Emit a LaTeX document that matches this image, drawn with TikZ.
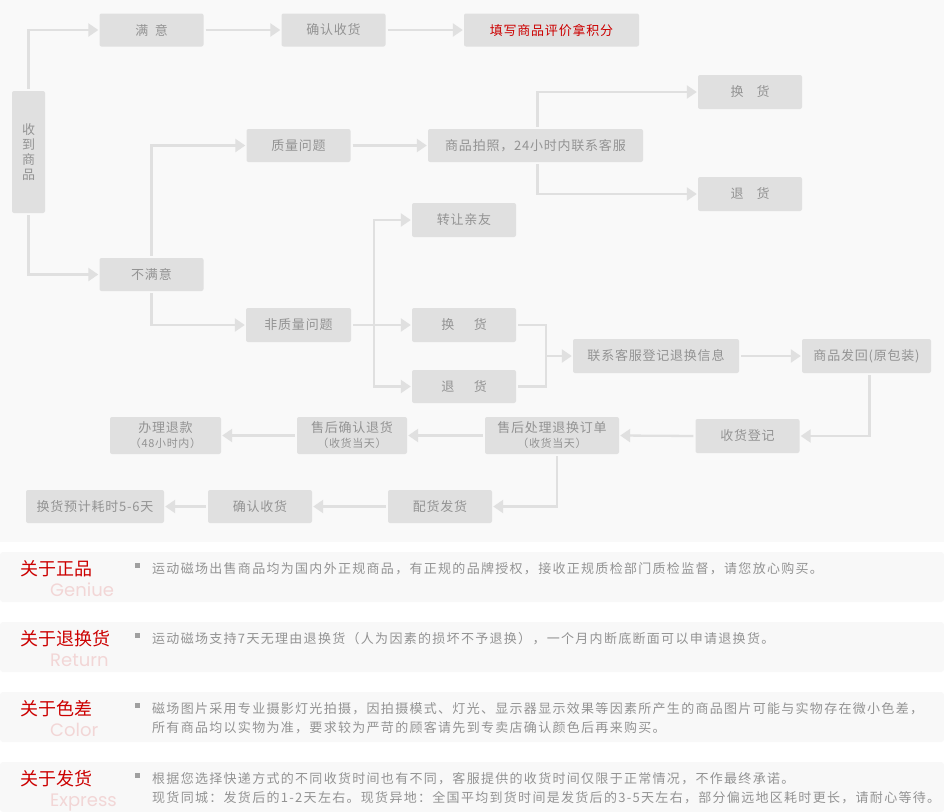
\documentclass[tikz,border=0pt]{standalone}
\usepackage{fontspec}
\setmainfont{Noto Sans CJK SC}
\newfontfamily\flowfont[LetterSpace=6]{Noto Sans CJK SC}
\newfontfamily\notefont[LetterSpace=10]{Noto Sans CJK SC}
\newfontfamily\latinfont{Poppins}
\usetikzlibrary{arrows.meta}
\definecolor{flowbg}{HTML}{F9F9F9}
\definecolor{rowbg}{HTML}{F8F8F8}
\definecolor{boxgray}{HTML}{E0E0E0}
\definecolor{linegray}{HTML}{E0E0E0}
\definecolor{txtgray}{HTML}{939393}
\definecolor{dotgray}{HTML}{A0A0A0}
\definecolor{redtxt}{HTML}{CC0000}
\definecolor{pinktxt}{HTML}{F2D6D6}
\newcommand{\aboutrow}[5]{% Syntax: {name}{top}{title}{english}{text}
  \fill [rowbg, rounded corners=3pt] (0,#2) rectangle ++(944,50);
  \node [rowtitle] (#1-title) at (20,#2+17) {#3};
  \node [rowsub] (#1-sub) at (50,#2+44) {#4};
  \fill [dotgray] (135,#2+11) rectangle ++(5,5);
  \node [rowtext] (#1-text) at (152,#2+10) {#5};
}
\begin{document}
\begin{tikzpicture}[x=1pt, y=-1pt,
  box/.style={fill=boxgray, rounded corners=2pt, text=txtgray, inner sep=0pt,
    minimum width=104pt, minimum height=33pt, font=\flowfont\fontsize{13}{16}\selectfont},
  twoline/.style={box, align=center, minimum height=37pt},
  link/.style={draw=linegray, line width=2.3pt, shorten <=2pt, shorten >=2pt},
  arrow/.style={link, -{Triangle[length=10pt,width=13pt]}, shorten >=1pt},
  rowtitle/.style={anchor=west, inner sep=0pt, text=redtxt, font=\fontsize{18}{20}\selectfont},
  rowsub/.style={anchor=base west, inner sep=0pt, text=pinktxt, font=\latinfont\fontsize{18}{20}\selectfont},
  rowtext/.style={anchor=north west, inner sep=0pt, align=left, text=txtgray, font=\notefont\fontsize{13}{19}\selectfont}]
\useasboundingbox (0,0) rectangle (944,811);
\fill [white] (0,0) rectangle (944,811);
\fill [flowbg] (0,0) rectangle (944,542);
% boxes
\node [box, minimum width=33pt, minimum height=122pt, align=center, font=\flowfont\fontsize{13}{15}\selectfont] (recv) at (28.5,152) {收\\到\\商\\品};
\node [box] (sat) at (151.5,30) {满\hspace{.5em}意};
\node [box] (conf1) at (333.5,30) {确认收货};
\node [box, minimum width=175pt, text=redtxt] (review) at (551.5,30) {填写商品评价拿积分};
\node [box] (qual) at (298.5,145.5) {质量问题};
\node [box, minimum width=215pt] (photo) at (535.5,145.5) {商品拍照，24小时内联系客服};
\node [box, minimum height=34pt] (exch1) at (750,92) {换\hspace{1em}货};
\node [box, minimum height=34pt] (ret1) at (750,194) {退\hspace{1em}货};
\node [box] (unsat) at (151.5,274.5) {不满意};
\node [box, minimum width=105pt, minimum height=34pt] (nonq) at (298.5,325) {非质量问题};
\node [box, minimum height=34pt] (gift) at (464,220) {转让亲友};
\node [box, minimum height=34pt] (exch2) at (464,325) {换\hspace{1.5em}货};
\node [box] (ret2) at (464,386.5) {退\hspace{1.5em}货};
\node [box, minimum width=166pt, minimum height=34pt] (contact) at (656,356) {联系客服登记退换信息};
\node [box, minimum width=129pt, minimum height=34pt] (back) at (866.5,356) {商品发回(原包装)};
\node [box, minimum height=34pt] (recvreg) at (747.5,436) {收货登记};
\node [twoline, minimum width=134pt] (proc) at (552,435.5) {售后处理退换订单\\[-1pt]\fontsize{11}{12}\selectfont（收货当天）};
\node [twoline, minimum width=110pt] (rconf) at (352,435.5) {售后确认退货\\[-1pt]\fontsize{11}{12}\selectfont（收货当天）};
\node [twoline, minimum width=111pt] (refund) at (165.5,435.5) {办理退款\\[-1pt]\fontsize{11}{12}\selectfont（48小时内）};
\node [box] (ship) at (440,506.5) {配货发货};
\node [box] (conf2) at (260,506.5) {确认收货};
\node [box, minimum width=138pt] (days) at (95,506.5) {换货预计耗时5-6天};
% satisfied
\draw [arrow] (recv.north) |- (sat.west);
\draw [arrow] (sat.east) -- (conf1.west);
\draw [arrow] (conf1.east) -- (review.west);
\draw [arrow] (recv.south) |- (unsat.west);
% quality problem
\draw [arrow] (unsat.north) |- (qual.west);
\draw [arrow] (qual.east) -- (photo.west);
\draw [arrow] ([xshift=2pt]photo.north) |- (exch1.west);
\draw [arrow] ([xshift=2pt]photo.south) |- (ret1.west);
% no quality problem
\draw [arrow] (unsat.south) |- (nonq.west);
\draw [arrow] (nonq.east) -- (exch2.west);
\coordinate (split) at ([xshift=23pt]nonq.east);
\draw [arrow, shorten <=0pt] (split) |- (gift.west);
\draw [arrow, shorten <=0pt] (split) |- (ret2.west);
\draw [link] (exch2.east) -- ++(30,0) coordinate (join) |- (ret2.east);
\draw [arrow, shorten <=0pt] (join |- contact.west) -- (contact.west);
% return and exchange
\draw [arrow] (contact.east) -- (back.west);
\draw [arrow] ([xshift=3pt]back.south) |- (recvreg.east);
\draw [arrow] (recvreg.west) -- (proc.east);
\draw [arrow] (proc.west) -- (rconf.east);
\draw [arrow] (rconf.west) -- (refund.east);
\draw [arrow] ([xshift=5pt]proc.south) |- (ship.east);
\draw [arrow] (ship.west) -- (conf2.east);
\draw [arrow] (conf2.west) -- (days.east);
% notes
\aboutrow{genuine}{552}{关于正品}{Geniue}{运动磁场出售商品均为国内外正规商品，有正规的品牌授权，接收正规质检部门质检监督，请您放心购买。}
\aboutrow{return}{622}{关于退换货}{Return}{运动磁场支持7天无理由退换货（人为因素的损坏不予退换），一个月内断底断面可以申请退换货。}
\aboutrow{color}{692}{关于色差}{Color}{磁场图片采用专业摄影灯光拍摄，因拍摄模式、灯光、显示器显示效果等因素所产生的商品图片可能与实物存在微小色差，\\所有商品均以实物为准，要求较为严苛的顾客请先到专卖店确认颜色后再来购买。}
\aboutrow{express}{762}{关于发货}{Express}{根据您选择快递方式的不同收货时间也有不同，客服提供的收货时间仅限于正常情况，不作最终承诺。\\现货同城：发货后的1-2天左右。现货异地：全国平均到货时间是发货后的3-5天左右，部分偏远地区耗时更长，请耐心等待。}
\end{tikzpicture}
\end{document}
